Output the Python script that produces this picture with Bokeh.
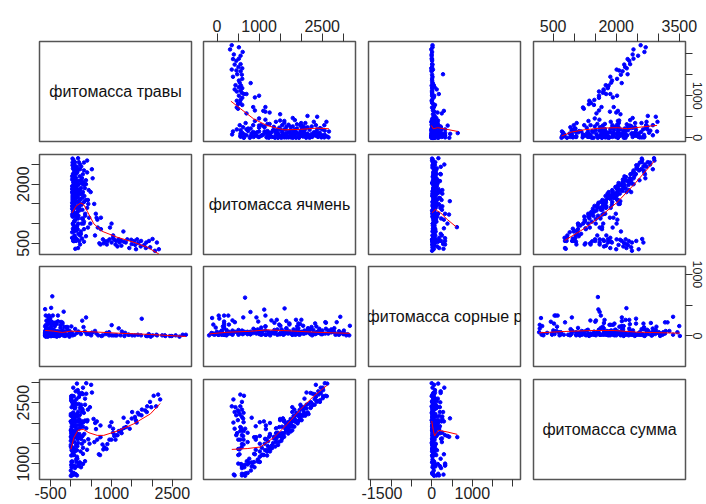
import math
from bokeh.plotting import figure
from bokeh.layouts import gridplot, column
from bokeh.models import Range1d, LinearAxis, FixedTicker, Grid
from bokeh.core.properties import value
from bokeh.embed import file_html
from bokeh.resources import INLINE

# Variable names shown on the diagonal
labels = ["фитомасса травы", "фитомасса ячмень", "фитомасса сорные р", "фитомасса сумма"]

# One value per plot: herbage, barley, weeds and the plot total
travy = [
    0, 30, 60, 120, 100, 20, 180, 250, 40, 150,
    300, 80, 10, 220, 350, 60, 130, 400, 20, 270,
    90, 0, 180, 330, 50, 240, 110, 10, 300, 70,
    200, 140, 30, 380, 260, 90, 0, 170, 50, 310,
    120, 220, 20, 400, 80, 160, 290, 40, 110, 230,
    0, 350, 60, 190, 20, 130, 270, 50, 100, 10,
    200, 70, 30, 150, 60, 120, 40, 112, 94, 0,
    290, 120, 80, 150, 200, 60, 10, 100, 30, 160,
    50, 250, 20, 330, 140, 60, 200, 10, 80, 270,
    150, 0, 350, 420, 380, 300, 430, 100, 20, 220,
    60, 180, 0, 260, 110, 30, 200, 10, 380, 10,
    90, 150, 40, 300, 120, 60, 240, 20, 170, 410,
    40, 150, 10, 90, 200, 30, 120, 0, 250, 60,
    170, 20, 100, 300, 50, 130, 0, 80, 200, 140,
    30, 260, 110, 0, 180, 40, 320, 70, 230, 10,
    120, 60, 210, 20, 150, 280, 90, 0, 350, 40,
    160, 20, 240, 110, 50, 190, 70, 140, 30, 300,
    500, 520, 600, 620, 640, 730, 730, 650, 800, 690, 560, 470, 580, 460,
    2200, 2040, 1980, 1830, 1750, 1680, 1580, 1500, 1310, 1240,
    1180, 1040, 1070, 1000, 950, 900, 830, 720, 960, 1000,
    1300, 1510, 1360, 1100, 1740, 1400, 1200, 2100, 1620, 1880,
    1150, 1040, 1950, 1870, 1650, 1450, 1250, 1120, 880, 780,
    2150, 1600,
]
yachmen = [
    640, 560, 700, 600, 820, 870, 560, 620, 950, 1000,
    540, 1100, 1180, 740, 680, 1250, 1300, 900, 1350, 1120,
    1400, 1450, 1420, 1200, 1520, 1480, 1560, 1600, 1550, 1650,
    1630, 1700, 1720, 1400, 1750, 1780, 1800, 1820, 1850, 1700,
    1880, 1900, 1930, 1600, 1960, 2000, 1980, 2030, 2080, 2100,
    2120, 2000, 2180, 2200, 2260, 2300, 2250, 2350, 2420, 2480,
    2500, 2560, 2620, 2660, 2500, 2440, 2260, 910, 1570, 1230,
    1000, 1250, 360, 380, 470, 560, 630, 560, 560, 740,
    880, 1130, 1180, 1250, 1400, 1440, 1600, 1650, 1760, 1800,
    1830, 1880, 2100, 1850, 2300, 2550, 1150, 2150, 1000, 800,
    1070, 1330, 1530, 1350, 1900, 2050, 2380, 2650, 2600, 1760,
    1260, 1130, 800, 860, 1720, 1990, 2020, 2400, 2560, 1500,
    1480, 1540, 1700, 1820, 1860, 1960, 2040, 2200, 2150, 2300,
    1400, 1300, 1180, 1050, 1050, 950, 780, 650, 700, 860,
    1600, 1650, 1750, 1950, 2080, 2150, 1900, 2400, 2450, 2550,
    1450, 1550, 1500, 1850, 1980, 2050, 2250, 1380, 1600, 1250,
    1200, 990, 1000, 1650, 1780, 1750, 2100, 2350, 2480, 2350,
    2380, 2150, 1250, 1150, 1100, 860, 1150, 900, 500, 500, 1500, 1800, 700, 1000,
    350, 610, 400, 460, 560, 510, 560, 590, 540, 570,
    600, 700, 590, 520, 600, 560, 550, 470, 900, 1000,
    800, 480, 520, 470, 420, 600, 520, 310, 350, 520,
    420, 640, 560, 380, 600, 380, 440, 560, 470, 600,
    520, 460,
]
sornye = [
    60, 120, 10, 20, 30, 20, 200, 40, 60, 20,
    150, 30, 10, 60, 30, 80, 20, 40, 250, 100,
    40, 10, 60, 20, 100, 180, 20, 50, 60, 200,
    30, 10, 70, 90, 40, 150, 20, 60, 260, 10,
    30, 80, 40, 40, 120, 20, 50, 0, 200, 30,
    60, 100, 20, 80, 110, 30, 220, 50, 10, 70,
    40, 30, 20, 160, 310, 220, 210, 630, 450, 430,
    390, 330, 290, 180, 330, 330, 330, 230, 160, 220,
    300, 230, 130, 150, 210, 260, 240, 180, 260, 200,
    190, 160, 150, 60, 40, 20, 20, 110, 20, 10,
    90, 0, 30, 50, 40, 90, 60, 0, 0, 20,
    10, 50, 90, 80, 100, 40, 140, 120, 80, 160,
    20, 60, 30, 10, 40, 70, 30, 20, 50, 80,
    30, 60, 20, 40, 110, 20, 50, 30, 80, 40,
    120, 70, 50, 90, 20, 40, 30, 60, 20, 50,
    100, 10, 20, 40, 90, 20, 30, 40, 110, 10,
    70, 40, 60, 40, 100, 10, 50, 100, 10, 60,
    60, 80, 150, 80, 300, 60, 60, 40, 50, 40, 40, 120, 250, 30,
    30, 20, 10, 20, 20, 20, 10, 20, 30, 10,
    20, 20, 20, 70, 40, 20, 20, 20, 60, 20,
    30, 280, 20, 20, 30, 20, 80, 0, 40, 10,
    130, 180, 10, 20, 0, 30, 60, 20, 10, 90,
    30, 10,
]
summa = [
    700, 710, 770, 740, 950, 910, 940, 910, 1050, 1170,
    990, 1210, 1200, 1020, 1060, 1390, 1450, 1340, 1620, 1490,
    1530, 1460, 1660, 1550, 1670, 1900, 1690, 1660, 1910, 1920,
    1860, 1850, 1820, 1870, 2050, 2020, 1820, 2050, 2160, 2020,
    2030, 2200, 1990, 2040, 2160, 2180, 2320, 2070, 2390, 2360,
    2180, 2450, 2260, 2470, 2390, 2460, 2740, 2450, 2530, 2560,
    2740, 2660, 2670, 2970, 2870, 2780, 2510, 1652, 2114, 1660,
    1680, 1700, 730, 710, 1000, 950, 970, 890, 750, 1120,
    1230, 1610, 1330, 1730, 1750, 1760, 2040, 1840, 2100, 2270,
    2170, 2040, 2600, 2330, 2720, 2870, 1600, 2360, 1040, 1030,
    1220, 1510, 1560, 1660, 2050, 2170, 2640, 2660, 2980, 1790,
    1360, 1330, 930, 1240, 1940, 2090, 2400, 2540, 2810, 2070,
    1540, 1750, 1740, 1920, 2100, 2060, 2190, 2220, 2450, 2440,
    1600, 1380, 1300, 1390, 1210, 1100, 830, 760, 980, 1040,
    1750, 1980, 1910, 2040, 2280, 2230, 2250, 2530, 2700, 2610,
    1670, 1620, 1730, 1910, 2220, 2350, 2370, 1420, 2060, 1300,
    1430, 1050, 1300, 1800, 1930, 1950, 2220, 2590, 2520, 2710,
    2940, 2750, 2000, 1850, 2040, 1650, 1940, 1590, 1350, 1230, 2100, 2390, 1530, 1490,
    2580, 2670, 2390, 2310, 2330, 2210, 2150, 2110, 1880, 1820,
    1800, 1760, 1680, 1590, 1590, 1480, 1400, 1210, 1920, 2020,
    2130, 2270, 1900, 1590, 2190, 2020, 1800, 2410, 2010, 2410,
    1700, 1860, 2520, 2270, 2250, 1860, 1750, 1700, 1360, 1470,
    2700, 2070,
]
variables = [travy, yachmen, sornye, summa]

# Local smoothers (x, y) for each off-diagonal panel; y-variable first in the name
lo_travy_yachmen_x = [330, 560, 870, 1190, 1590, 1980, 2380, 2660]
lo_travy_yachmen_y = [870, 690, 450, 290, 190, 200, 230, 215]
lo_travy_sornye_x = [0, 45, 155, 300, 630]
lo_travy_sornye_y = [295, 215, 240, 215, 150]
lo_travy_summa_x = [700, 930, 1240, 1640, 2030, 2270, 2590, 2970]
lo_travy_summa_y = [40, 135, 190, 230, 240, 215, 255, 295]
lo_yachmen_travy_x = [0, 100, 210, 290, 390, 550, 760, 1140, 1570, 1910, 2200]
lo_yachmen_travy_y = [1275, 1445, 1520, 1490, 1300, 995, 805, 655, 525, 400, 230]
lo_yachmen_sornye_x = [0, 85, 145, 215, 385, 620]
lo_yachmen_sornye_y = [1275, 1360, 1315, 1275, 1105, 910]
lo_yachmen_summa_x = [700, 1200, 1620, 2050, 2470, 2980]
lo_yachmen_summa_y = [570, 875, 1190, 1555, 2000, 2590]
lo_sornye_travy_x = [0, 135, 270, 400, 735, 1125, 1645, 2200]
lo_sornye_travy_y = [97, 86, 65, 86, 76, 55, 34, 3]
lo_sornye_yachmen_x = [310, 600, 1000, 1275, 1555, 2115, 2660]
lo_sornye_yachmen_y = [24, 51, 68, 92, 80, 51, 34]
lo_sornye_summa_x = [700, 1105, 1540, 1915, 2295, 2980]
lo_sornye_summa_y = [51, 72, 88, 88, 61, 45]
lo_summa_travy_x = [0, 75, 175, 305, 445, 650, 810, 1140, 1550, 1960, 2200]
lo_summa_travy_y = [1350, 1640, 1820, 1845, 1760, 1695, 1695, 1800, 1980, 2225, 2480]
lo_summa_yachmen_x = [310, 690, 1015, 1345, 1670, 2000, 2325, 2660]
lo_summa_yachmen_y = [1350, 1370, 1410, 1640, 1965, 2335, 2660, 2930]
lo_summa_sornye_x = [0, 35, 70, 120, 175, 380, 630]
lo_summa_sornye_y = [2050, 1845, 1680, 1760, 1820, 1780, 1720]

smooth = {
    (0, 1): (lo_travy_yachmen_x, lo_travy_yachmen_y),
    (0, 2): (lo_travy_sornye_x, lo_travy_sornye_y),
    (0, 3): (lo_travy_summa_x, lo_travy_summa_y),
    (1, 0): (lo_yachmen_travy_x, lo_yachmen_travy_y),
    (1, 2): (lo_yachmen_sornye_x, lo_yachmen_sornye_y),
    (1, 3): (lo_yachmen_summa_x, lo_yachmen_summa_y),
    (2, 0): (lo_sornye_travy_x, lo_sornye_travy_y),
    (2, 1): (lo_sornye_yachmen_x, lo_sornye_yachmen_y),
    (2, 3): (lo_sornye_summa_x, lo_sornye_summa_y),
    (3, 0): (lo_summa_travy_x, lo_summa_travy_y),
    (3, 1): (lo_summa_yachmen_x, lo_summa_yachmen_y),
    (3, 2): (lo_summa_sornye_x, lo_summa_sornye_y),
}

# Outer axis ticks; empty strings are ticks drawn without a label
travy_x_ticks = [-500, 0, 500, 1000, 1500, 2000, 2500]
travy_x_labels = ["-500", "", "", "1000", "", "", "2500"]
yachmen_x_ticks = [0, 500, 1000, 1500, 2000, 2500, 3000]
yachmen_x_labels = ["0", "", "1000", "", "", "2500", ""]
sornye_x_ticks = [-1500, -1000, -500, 0, 500, 1000, 1500, 2000]
sornye_x_labels = ["-1500", "", "", "0", "", "1000", "", ""]
summa_x_ticks = [500, 1000, 1500, 2000, 2500, 3000, 3500]
summa_x_labels = ["500", "", "", "2000", "", "", "3500"]
travy_y_ticks = [0, 500, 1000, 1500, 2000]
travy_y_labels = ["0", "", "1000", "", ""]
yachmen_y_ticks = [500, 1000, 1500, 2000, 2500]
yachmen_y_labels = ["500", "", "", "2000", ""]
sornye_y_ticks = [0, 500, 1000]
sornye_y_labels = ["0", "", "1000"]
summa_y_ticks = [1000, 1500, 2000, 2500, 3000]
summa_y_labels = ["1000", "", "", "2500", ""]

outer_axes = {
    (0, 1): [("above", yachmen_x_ticks, yachmen_x_labels)],
    (0, 3): [("above", summa_x_ticks, summa_x_labels),
             ("right", travy_y_ticks, travy_y_labels)],
    (1, 0): [("left", yachmen_y_ticks, yachmen_y_labels)],
    (2, 3): [("right", sornye_y_ticks, sornye_y_labels)],
    (3, 0): [("below", travy_x_ticks, travy_x_labels),
             ("left", summa_y_ticks, summa_y_labels)],
    (3, 2): [("below", sornye_x_ticks, sornye_x_labels)],
}

# side -> (tick length, label standoff, label size, label orientation)
axis_style = {
    "above": (8, 2, "16px", "horizontal"),
    "left": (8, 2, "16px", "vertical"),
    "below": (7, 0, "16px", "horizontal"),
    "right": (7, 0, "12.5px", "vertical"),
}

FW, FH = 152, 100
col_left = [39, 6, 7, 7]
col_right = [6, 6, 6, 21]
row_top = [41, 7, 6, 7]
row_bottom = [6, 6, 6, 25]

FONT = "Liberation Sans"


def aspect_ranges(xv, yv):
    # equal units per pixel on both axes, 4% padding on the wider span
    x0, x1 = min(xv), max(xv)
    y0, y1 = min(yv), max(yv)
    unit = max((x1 - x0) / FW, (y1 - y0) / FH) * 1.08
    xc, yc = (x0 + x1) / 2, (y0 + y1) / 2
    return (Range1d(xc - unit * FW / 2, xc + unit * FW / 2),
            Range1d(yc - unit * FH / 2, yc + unit * FH / 2))


def make_axis(side, ticks, labs):
    tick_len, standoff, size, orient = axis_style[side]
    ax = LinearAxis(ticker=FixedTicker(ticks=ticks),
                    major_label_overrides={t: s for t, s in zip(ticks, labs)})
    ax.axis_line_color = None
    ax.minor_tick_line_color = None
    ax.major_tick_in = 0
    ax.major_tick_out = tick_len
    ax.major_tick_line_color = "#333333"
    ax.major_label_text_font = FONT
    ax.major_label_text_font_size = size
    ax.major_label_text_color = "#222222"
    ax.major_label_standoff = standoff
    ax.major_label_orientation = orient
    return ax


rows = []
for i in range(4):
    row = []
    for j in range(4):
        xr, yr = aspect_ranges(variables[j], variables[i])
        p = figure(width=col_left[j] + FW + col_right[j],
                   height=row_top[i] + FH + row_bottom[i],
                   x_range=xr, y_range=yr,
                   x_axis_location=None, y_axis_location=None,
                   toolbar_location=None, output_backend="svg",
                   min_border_left=col_left[j], min_border_right=col_right[j],
                   min_border_top=row_top[i], min_border_bottom=row_bottom[i])
        p.center = [r for r in p.center if not isinstance(r, Grid)]
        p.outline_line_color = "#555555"
        p.outline_line_width = 1.5
        p.background_fill_color = "white"
        p.border_fill_color = "white"
        if i == j:
            xc = (min(variables[j]) + max(variables[j])) / 2
            yc = (min(variables[i]) + max(variables[i])) / 2
            p.text(x=[xc], y=[yc], text=[labels[i]], text_align="center",
                   text_baseline="middle", text_font=value(FONT),
                   text_font_size="16px", text_color="#111111")
        else:
            p.scatter(variables[j], variables[i], size=3.5, marker="circle",
                      color="#0000ff")
            sx, sy = smooth[(i, j)]
            p.line(sx, sy, line_color="#ff0000", line_width=1)
        for side, ticks, labs in outer_axes.get((i, j), []):
            p.add_layout(make_axis(side, ticks, labs), side)
        row.append(p)
    rows.append(row)

grid = gridplot(rows, toolbar_location=None)
page = column(grid, width=706, height=504, styles={"overflow": "hidden"})

open("out.html", "w").write(file_html(page, INLINE))
